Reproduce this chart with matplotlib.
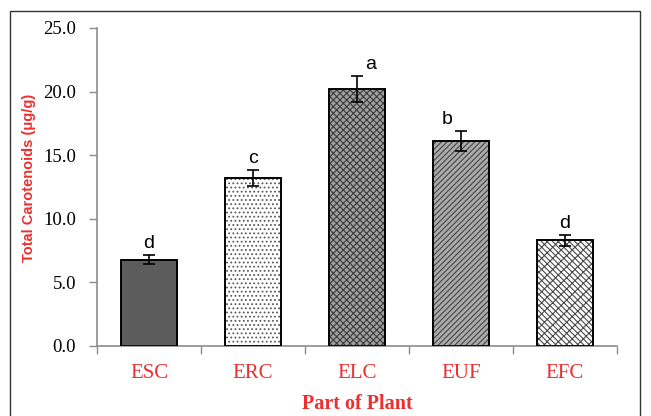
import matplotlib
matplotlib.use("Agg")
import matplotlib.pyplot as plt
from matplotlib.patches import Rectangle

categories = ["ESC", "ERC", "ELC", "EUF", "EFC"]
values = [6.8, 13.2, 20.2, 16.1, 8.3]
errors = [0.35, 0.65, 1.0, 0.8, 0.45]
letters = ["d", "c", "a", "b", "d"]
letter_dx = [0.0, 0.0, 0.13, -0.13, 0.0]
y_ticks = [0, 5, 10, 15, 20, 25]

facecolors = ["#5c5c5c", "white", "#a0a0a0", "#ababab", "white"]
hatches = [None, "....", "xxxxx", "//////", "\\\\\\\\\\\\///"]
hatchcolors = ["#5c5c5c", "#5a5a5a", "#3a3a3a", "#444444", "#4a4a4a"]

red = "#ec2f2f"

fig = plt.figure(figsize=(6.51, 4.16), dpi=100)
ax = fig.add_axes([97/651, 1-346/416, 520/651, 318/416])

x = list(range(len(categories)))
for i in x:
    b = ax.bar(i, values[i], width=0.54, color=facecolors[i], edgecolor="black",
               linewidth=1.2, hatch=hatches[i], zorder=2)
    if hatches[i]:
        b[0].set_hatch_linewidth(0.8)
        b[0]._hatch_color = matplotlib.colors.to_rgba(hatchcolors[i])
    ax.bar(i, values[i], width=0.54, fill=False, edgecolor="black", linewidth=1.2, zorder=3)

ax.errorbar(x, values, yerr=errors, fmt="none", ecolor="black", elinewidth=1.2,
            capsize=4, capthick=1.2, zorder=4)

for i in x:
    ax.text(i + letter_dx[i], values[i] + errors[i] + 0.25, letters[i],
            ha="center", va="bottom", fontsize=14, family="Liberation Sans", color="black")

ax.set_xlim(-0.5, 4.5)
ax.set_ylim(0, 25)
ax.set_yticks(y_ticks)
ax.set_yticklabels([f"{v:.1f}" for v in y_ticks], family="Liberation Serif", fontsize=13.5)
ax.set_xticks(x)
ax.set_xticklabels(categories, family="Liberation Serif", fontsize=15, color=red)
ax.set_xticks([i - 0.5 for i in range(len(categories) + 1)], minor=True)
ax.tick_params(axis="x", which="major", length=0, pad=13)
ax.tick_params(axis="x", which="minor", length=6, width=1, color="#8c8c8c", direction="out")
ax.tick_params(axis="y", length=6, width=1, color="#8c8c8c", direction="out", pad=9)

for s in ["top", "right"]:
    ax.spines[s].set_visible(False)
for s in ["left", "bottom"]:
    ax.spines[s].set_color("#8c8c8c")
    ax.spines[s].set_linewidth(1.2)

ax.set_ylabel("Total Carotenoids (μg/g)", family="Liberation Sans", fontweight="bold",
              fontsize=10.5, color=red)
ax.yaxis.set_label_coords(-0.117, 0.53)
ax.set_xlabel("Part of Plant", family="Liberation Serif", fontweight="bold",
              fontsize=14.5, color=red, labelpad=8)

fig.patches.append(Rectangle((10/651, -0.05), 630/651, 1.05 - 11/416,
                             transform=fig.transFigure, fill=False,
                             edgecolor="#333333", linewidth=1.0))

fig.savefig("out.png", dpi=100)
